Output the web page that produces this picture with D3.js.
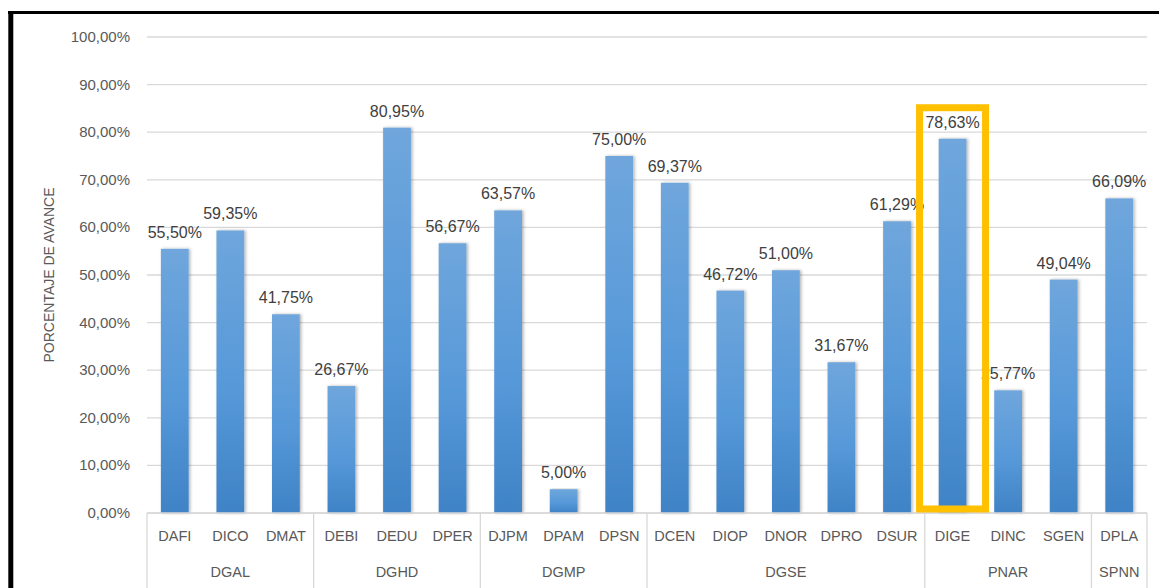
<!DOCTYPE html>
<html>
<head>
<meta charset="utf-8">
<script src="https://cdn.jsdelivr.net/npm/d3@7"></script>
<style>
  body { margin: 0; background: #fff; }
  text { font-family: "Liberation Sans", Arial, sans-serif; }
</style>
</head>
<body>
<svg id="chart" width="1159" height="588"></svg>
<script>
// data
var areas = ["DAFI","DICO","DMAT","DEBI","DEDU","DPER","DJPM","DPAM","DPSN","DCEN","DIOP","DNOR","DPRO","DSUR","DIGE","DINC","SGEN","DPLA"];
var groups = ["DGAL","DGAL","DGAL","DGHD","DGHD","DGHD","DGMP","DGMP","DGMP","DGSE","DGSE","DGSE","DGSE","DGSE","PNAR","PNAR","PNAR","SPNN"];
var avance = [55.50,59.35,41.75,26.67,80.95,56.67,63.57,5.00,75.00,69.37,46.72,51.00,31.67,61.29,78.63,25.77,49.04,66.09];
var yTicks = [0,10,20,30,40,50,60,70,80,90,100];
var highlighted = "DIGE";

var svg = d3.select("#chart");
// plot area edges (note: "top" is taken by window.top)
var plotLeft = 147, plotRight = 1147, plotTop = 37, plotBottom = 513;

var x = d3.scaleBand().domain(areas).range([plotLeft, plotRight]).paddingInner(0.5).paddingOuter(0.25);
var y = d3.scaleLinear().domain([0, 100]).range([plotBottom, plotTop]);

var fmt = function(v) { return v.toFixed(2).replace(".", ",") + "%"; };

// gradient + shadow for the bars
var defs = svg.append("defs");
var grad = defs.append("linearGradient").attr("id", "barGrad")
  .attr("x1", 0).attr("y1", 0).attr("x2", 0).attr("y2", 1);
grad.append("stop").attr("offset", "0%").attr("stop-color", "#6fa6dc");
grad.append("stop").attr("offset", "55%").attr("stop-color", "#5799d9");
grad.append("stop").attr("offset", "100%").attr("stop-color", "#3f83c6");
var sh = defs.append("filter").attr("id", "shadow").attr("x", "-30%").attr("y", "-5%").attr("width", "160%").attr("height", "110%");
sh.append("feDropShadow").attr("dx", 1.5).attr("dy", 0).attr("stdDeviation", 1.5).attr("flood-color", "#000").attr("flood-opacity", 0.3);

// gridlines
svg.append("g").selectAll("line").data(yTicks).enter().append("line")
  .attr("x1", plotLeft).attr("x2", plotRight)
  .attr("y1", function(d) { return y(d); }).attr("y2", function(d) { return y(d); })
  .style("stroke", "#d9d9d9").style("stroke-width", 1.3);

// y tick labels
svg.append("g").selectAll("text").data(yTicks).enter().append("text")
  .attr("x", 130).attr("y", function(d) { return y(d) + 5; })
  .attr("text-anchor", "end")
  .style("font-size", "15px").style("fill", "#595959")
  .text(function(d) { return d.toFixed(2).replace(".", ",") + "%"; });

// y axis title
svg.append("text")
  .attr("transform", "translate(54,275) rotate(-90)")
  .attr("text-anchor", "middle")
  .style("font-size", "14px").style("fill", "#595959")
  .text("PORCENTAJE DE AVANCE");

// bars
svg.append("g").selectAll("rect").data(areas).enter().append("rect")
  .attr("x", function(d) { return x(d); })
  .attr("width", x.bandwidth())
  .attr("y", function(d, i) { return y(avance[i]); })
  .attr("height", function(d, i) { return plotBottom - y(avance[i]); })
  .attr("fill", "url(#barGrad)")
  .attr("filter", "url(#shadow)");

// value labels
svg.append("g").selectAll("text").data(areas).enter().append("text")
  .attr("x", function(d) { return x(d) + x.bandwidth() / 2; })
  .attr("y", function(d, i) { return y(avance[i]) - 11; })
  .attr("text-anchor", "middle")
  .style("font-size", "16px").style("fill", "#404040")
  .text(function(d, i) { return fmt(avance[i]); });

// category axis: base line, group separators, labels
var step = x.step();
svg.append("line").attr("x1", plotLeft).attr("x2", plotRight).attr("y1", plotBottom).attr("y2", plotBottom)
  .style("stroke", "#d9d9d9").style("stroke-width", 1.3);

var groupNames = [];
groups.forEach(function(g) { if (groupNames.indexOf(g) < 0) groupNames.push(g); });
var groupSpans = groupNames.map(function(g) {
  var first = groups.indexOf(g), last = groups.lastIndexOf(g);
  return { name: g, x0: plotLeft + first * step, x1: plotLeft + (last + 1) * step };
});

var seps = [plotLeft].concat(groupSpans.map(function(s) { return s.x1; }));
svg.append("g").selectAll("line").data(seps).enter().append("line")
  .attr("x1", function(d) { return d; }).attr("x2", function(d) { return d; })
  .attr("y1", plotBottom).attr("y2", 588)
  .style("stroke", "#d9d9d9").style("stroke-width", 1.3);

svg.append("g").selectAll("text").data(areas).enter().append("text")
  .attr("x", function(d) { return x(d) + x.bandwidth() / 2; })
  .attr("y", 541)
  .attr("text-anchor", "middle")
  .style("font-size", "14.5px").style("fill", "#595959")
  .text(function(d) { return d; });

svg.append("g").selectAll("text").data(groupSpans).enter().append("text")
  .attr("x", function(d) { return (d.x0 + d.x1) / 2; })
  .attr("y", 577)
  .attr("text-anchor", "middle")
  .style("font-size", "14.5px").style("fill", "#595959")
  .text(function(d) { return d.name; });

// highlight box around DIGE
var hi = areas.indexOf(highlighted);
svg.append("rect")
  .attr("x", x(highlighted) + x.bandwidth() / 2 - 33)
  .attr("y", y(avance[hi]) - 31)
  .attr("width", 66)
  .attr("height", plotBottom - y(avance[hi]) + 27)
  .style("fill", "none").style("stroke", "#ffc000").style("stroke-width", 7);

// black frame on top / left
svg.append("line").attr("x1", 8).attr("x2", 1159).attr("y1", 12.5).attr("y2", 12.5)
  .style("stroke", "#000").style("stroke-width", 3);
svg.append("line").attr("x1", 10.8).attr("x2", 10.8).attr("y1", 11).attr("y2", 588)
  .style("stroke", "#000").style("stroke-width", 5);
</script>
</body>
</html>
